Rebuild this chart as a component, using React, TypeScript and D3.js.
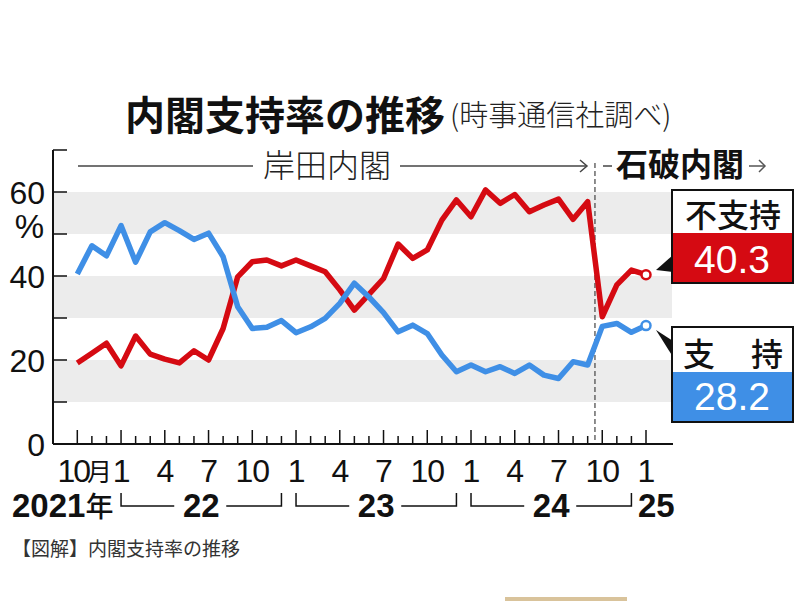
import React from "react";
import * as d3 from "d3";

// Monthly survey, Oct 2021 .. Jan 2025 (40 months)
const monthNums = [10,11,12,1,2,3,4,5,6,7,8,9,10,11,12,1,2,3,4,5,6,7,8,9,10,11,12,1,2,3,4,5,6,7,8,9,10,11,12,1];
const support = [40.5,47.2,44.8,52.0,43.3,50.5,52.7,50.8,48.7,50.2,44.6,32.7,27.5,27.8,29.4,26.5,27.9,29.9,33.5,38.3,35.0,31.3,26.7,28.3,26.3,21.2,17.2,18.8,17.2,18.4,16.8,18.8,16.4,15.6,19.6,18.8,28.0,28.7,26.6,28.2];
const nonSupport = [19.3,21.6,24.0,18.6,25.7,21.4,20.2,19.3,22.2,20.0,27.5,39.8,43.4,43.8,42.4,43.8,42.4,41.0,36.7,31.9,35.6,39.4,47.6,44.2,46.2,53.3,58.1,54.1,60.5,57.3,59.4,55.3,56.9,58.3,53.5,57.7,30.3,37.9,41.4,40.3];
const yTicks = [10,20,30,40,50,60,70];
const yLabels = [0,20,40,60];
const bands = [[10,20],[30,40],[50,60]];
const years = [{label:"22", start:3, end:14},{label:"23", start:15, end:26},{label:"24", start:27, end:38}];

const RED = "#d50a12";
const BLUE = "#3f8fe6";
const NUM = "'Liberation Sans', 'Noto Sans CJK JP', sans-serif";
const JP = "'Noto Sans CJK JP', sans-serif";

export default function App() {
  const x = d3.scaleLinear().domain([0, 39]).range([77.3, 646]);
  const y = d3.scaleLinear().domain([0, 70]).range([444, 150]);
  const line = d3.line<number>().x((_, i) => x(i)).y(d => y(d));
  const last = support.length - 1;
  const divX = (x(35) + x(36)) / 2;

  return (
    <svg width={800} height={601} style={{ position: "absolute", left: 0, top: 0, background: "#fff" }}>
      {/* Title */}
      <text x={125} y={130} fontFamily={JP} fontWeight={700} fontSize={40} fill="#111">内閣支持率の推移</text>
      <text x={450} y={126} fontFamily={JP} fontSize={29} fontWeight={300} fill="#222">(時事通信社調べ)</text>

      {/* bands */}
      {bands.map(([a, b]) => (
        <rect key={a} x={53} y={y(b)} width={672 - 53} height={y(a) - y(b)} fill="#ececec" />
      ))}

      {/* cabinet labels */}
      <line x1={78} x2={253} y1={166} y2={166} stroke="#444" strokeWidth={1.5} />
      <text x={263} y={177} fontFamily={JP} fontSize={32} fontWeight={300} fill="#222">岸田内閣</text>
      <line x1={400} x2={586} y1={166} y2={166} stroke="#444" strokeWidth={1.5} />
      <polyline points="580,160 587,166 580,172" fill="none" stroke="#444" strokeWidth={1.5} />
      <line x1={603} x2={612} y1={166} y2={166} stroke="#444" strokeWidth={1.5} />
      <text x={616} y={176} fontFamily={JP} fontSize={32} fontWeight={700} fill="#111">石破内閣</text>
      <line x1={749} x2={765} y1={166} y2={166} stroke="#555" strokeWidth={1.5} />
      <polyline points="759,160 765,166 759,172" fill="none" stroke="#555" strokeWidth={1.5} />

      {/* divider */}
      <line x1={divX} x2={divX} y1={163} y2={442} stroke="#444" strokeWidth={1.2} strokeDasharray="5,3" />

      {/* axes */}
      <line x1={53} x2={53} y1={150} y2={444} stroke="#111" strokeWidth={2} />
      <line x1={53} x2={673} y1={444} y2={444} stroke="#111" strokeWidth={2} />
      {yTicks.map(t => (
        <line key={t} x1={53} x2={67} y1={y(t)} y2={y(t)} stroke="#111" strokeWidth={1.5} />
      ))}
      {yLabels.map(t => (
        <text key={t} x={45} y={y(t) + 11.5} textAnchor="end" fontFamily={NUM} fontSize={32} fill="#111">{t}</text>
      ))}
      <text x={44} y={238} textAnchor="end" fontFamily={NUM} fontSize={33} fill="#111">%</text>

      {monthNums.map((m, i) => {
        const major = m % 3 === 1;
        return <line key={i} x1={x(i)} x2={x(i)} y1={444} y2={major ? 430 : 436} stroke="#111" strokeWidth={1.5} />;
      })}
      {monthNums.map((m, i) => {
        if (m % 3 !== 1) return null;
        if (i === 0) {
          return (
            <g key={i}>
              <text x={89} y={482} textAnchor="end" fontFamily={NUM} fontSize={32} fill="#111" letterSpacing={-2}>10</text>
              <text x={87} y={481} fontFamily={JP} fontSize={25} fill="#111">月</text>
            </g>
          );
        }
        return <text key={i} x={x(i)} y={482} textAnchor="middle" fontFamily={NUM} fontSize={32} fill="#111" letterSpacing={-1}>{m}</text>;
      })}

      {/* year row */}
      <text x={12} y={517} fontFamily={NUM} fontSize={33} fontWeight={700} fill="#111">2021<tspan fontFamily={JP} fontSize={28} fontWeight={500}>年</tspan></text>
      {years.map(yr => {
        const a = x(yr.start), b = x(yr.end), c = (a + b) / 2;
        return (
          <g key={yr.label}>
            <polyline points={`${a},493 ${a},506 ${c - 27},506`} fill="none" stroke="#111" strokeWidth={1.5} />
            <polyline points={`${c + 25},506 ${b},506 ${b},493`} fill="none" stroke="#111" strokeWidth={1.5} />
            <text x={c} y={517} textAnchor="middle" fontFamily={NUM} fontSize={33} fontWeight={700} fill="#111">{yr.label}</text>
          </g>
        );
      })}
      <text x={638} y={517} fontFamily={NUM} fontSize={33} fontWeight={700} fill="#111">25</text>

      {/* lines */}
      <path d={line(nonSupport) || ""} fill="none" stroke={RED} strokeWidth={5.5} strokeLinejoin="round" />
      <path d={line(support) || ""} fill="none" stroke={BLUE} strokeWidth={5.5} strokeLinejoin="round" />
      <circle cx={x(last)} cy={y(nonSupport[last])} r={4.5} fill="#fff" stroke={RED} strokeWidth={2.5} />
      <circle cx={x(last)} cy={y(support[last])} r={4.5} fill="#fff" stroke={BLUE} strokeWidth={2.5} />

      {/* legend boxes */}
      <polygon points="656,270 673,255 673,272" fill="#111" />
      <rect x={672} y={190} width={121} height={93} fill="#fff" stroke="#111" strokeWidth={2} />
      <rect x={673} y={233} width={119} height={49} fill={RED} />
      <text x={733} y={227} textAnchor="middle" fontFamily={JP} fontSize={32} fontWeight={500} fill="#111">不支持</text>
      <text x={732} y={273} textAnchor="middle" fontFamily={NUM} fontSize={39} fill="#fff">{nonSupport[last].toFixed(1)}</text>

      <polygon points="656,330 673,341 673,357" fill="#111" />
      <rect x={672} y={327} width={121} height={95} fill="#fff" stroke="#111" strokeWidth={2} />
      <rect x={673} y={372} width={119} height={49} fill={BLUE} />
      <text x={683} y={366} fontFamily={JP} fontSize={32} fontWeight={500} fill="#111">支</text>
      <text x={751} y={366} fontFamily={JP} fontSize={32} fontWeight={500} fill="#111">持</text>
      <text x={732} y={410} textAnchor="middle" fontFamily={NUM} fontSize={39} fill="#fff">{support[last].toFixed(1)}</text>

      {/* caption */}
      <text x={12} y={556} fontFamily={JP} fontSize={19} fill="#333">【図解】内閣支持率の推移</text>
      <rect x={505} y={597} width={122} height={4} fill="#d9c39b" />
    </svg>
  );
}
